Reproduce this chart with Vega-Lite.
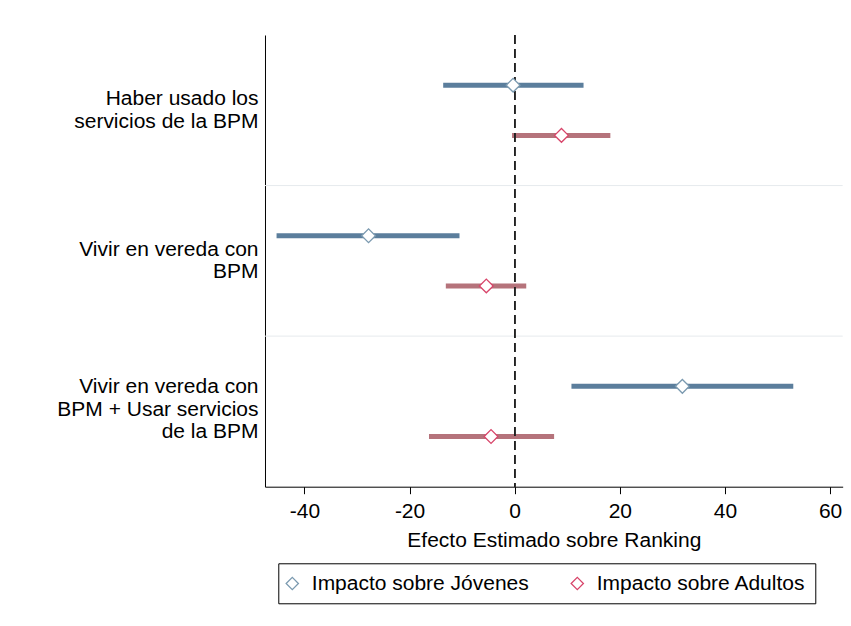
{
  "$schema": "https://vega.github.io/schema/vega-lite/v6.json",
  "width": 577.7,
  "height": 451.7,
  "autosize": {"type": "none"},
  "padding": {"left": 265, "top": 35, "right": 8, "bottom": 139},
  "background": "white",
  "config": {
    "font": "Liberation Sans",
    "view": {"stroke": null},
    "axis": {"labelColor": "black", "titleColor": "black", "domainColor": "black", "tickColor": "black", "grid": false}
  },
  "data": {
    "values": [
      {"grupo": "Haber usado los\nservicios de la BPM", "serie": "Impacto sobre Jóvenes", "est": -0.3, "lo": -13.6, "hi": 13.1},
      {"grupo": "Haber usado los\nservicios de la BPM", "serie": "Impacto sobre Adultos", "est": 8.9, "lo": -0.5, "hi": 18.2},
      {"grupo": "Vivir en vereda con\nBPM", "serie": "Impacto sobre Jóvenes", "est": -27.8, "lo": -45.3, "hi": -10.5},
      {"grupo": "Vivir en vereda con\nBPM", "serie": "Impacto sobre Adultos", "est": -5.4, "lo": -13.1, "hi": 2.2},
      {"grupo": "Vivir en vereda con\nBPM + Usar servicios\nde la BPM", "serie": "Impacto sobre Jóvenes", "est": 31.9, "lo": 10.8, "hi": 53.0},
      {"grupo": "Vivir en vereda con\nBPM + Usar servicios\nde la BPM", "serie": "Impacto sobre Adultos", "est": -4.5, "lo": -16.3, "hi": 7.5}
    ]
  },
  "layer": [
    {
      "transform": [{"filter": "datum.serie == 'Impacto sobre Jóvenes' && substring(datum.grupo, 0, 5) != 'Haber'"}],
      "mark": {"type": "rule", "color": "#e6eaed", "strokeWidth": 1},
      "encoding": {
        "y": {
          "field": "grupo", "type": "nominal", "bandPosition": 0,
          "sort": ["Haber usado los\nservicios de la BPM", "Vivir en vereda con\nBPM", "Vivir en vereda con\nBPM + Usar servicios\nde la BPM"],
          "scale": {"type": "band", "paddingInner": 0, "paddingOuter": 0},
          "axis": {
            "title": null, "ticks": false, "labelExpr": "split(datum.label, '\\n')",
            "labelFontSize": 21, "labelLineHeight": 22.5, "labelPadding": 7, "labelLimit": 400,
            "labelBaseline": "middle",
            "labelOffset": {"expr": "length(split(datum.value, '\\n')) > 2 ? -24 : -11"}
          }
        }
      }
    },
    {
      "mark": {"type": "rule", "strokeWidth": 5, "opacity": 1},
      "encoding": {
        "y": {"field": "grupo", "type": "nominal", "sort": ["Haber usado los\nservicios de la BPM", "Vivir en vereda con\nBPM", "Vivir en vereda con\nBPM + Usar servicios\nde la BPM"]},
        "yOffset": {"field": "serie", "type": "nominal", "sort": ["Impacto sobre Jóvenes", "Impacto sobre Adultos"], "scale": {"type": "band", "paddingInner": 0, "paddingOuter": 0.5}},
        "x": {
          "field": "lo", "type": "quantitative",
          "scale": {"domain": [-47.5, 62.4], "nice": false, "zero": false},
          "axis": {
            "values": [-40, -20, 0, 20, 40, 60], "labelExpr": "'' + datum.value", "tickSize": 7, "labelFontSize": 21, "labelPadding": 7,
            "title": "Efecto Estimado sobre Ranking", "titleFontSize": 21, "titleFontWeight": "normal", "titlePadding": 8
          }
        },
        "x2": {"field": "hi"},
        "color": {
          "field": "serie", "type": "nominal",
          "scale": {"domain": ["Impacto sobre Jóvenes", "Impacto sobre Adultos"], "range": ["#5b7e9c", "#b5737b"]},
          "legend": null
        }
      }
    },
    {
      "mark": {"type": "rule", "strokeDash": [9, 5], "color": "#222222", "strokeWidth": 1.3},
      "encoding": {"x": {"datum": 0}}
    },
    {
      "mark": {"type": "point", "shape": "diamond", "filled": true, "fill": "white", "size": 190, "strokeWidth": 1.3, "opacity": 1},
      "encoding": {
        "y": {"field": "grupo", "type": "nominal", "sort": ["Haber usado los\nservicios de la BPM", "Vivir en vereda con\nBPM", "Vivir en vereda con\nBPM + Usar servicios\nde la BPM"]},
        "yOffset": {"field": "serie", "type": "nominal", "sort": ["Impacto sobre Jóvenes", "Impacto sobre Adultos"]},
        "x": {"field": "est", "type": "quantitative"},
        "stroke": {
          "field": "serie", "type": "nominal",
          "scale": {"domain": ["Impacto sobre Adultos", "Impacto sobre Jóvenes"], "range": ["#d8456a", "#7b9ab0"]},
          "legend": {
            "values": ["Impacto sobre Jóvenes", "Impacto sobre Adultos"],
            "orient": "none", "legendX": 13.3, "legendY": 528.3, "direction": "horizontal", "columns": 2,
            "columnPadding": 38, "padding": 9.5, "strokeColor": "black", "title": null,
            "labelFontSize": 21, "labelColor": "black", "labelOffset": 9, "labelLimit": 400,
            "symbolType": "diamond", "symbolFillColor": "white", "symbolStrokeWidth": 1.3, "symbolSize": 150,
            "symbolOffset": -6
          }
        }
      }
    }
  ]
}
